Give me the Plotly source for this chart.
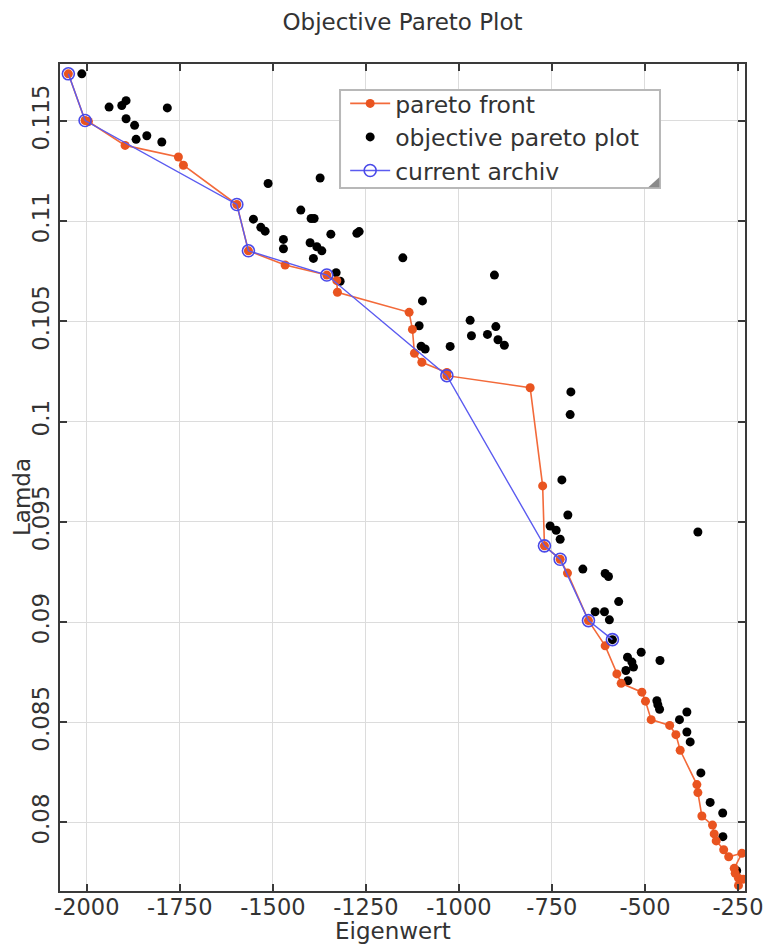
import plotly.graph_objects as go

# pareto front (orange)
pareto_x = [-2049.5, -2004.6, -1995.7, -1897.0, -1753.8, -1740.3, -1596.8, -1565.6, -1467.0,
            -1354.9, -1328.0, -1326.4, -1133.7, -1124.8, -1119.4, -1099.5, -1032.3, -1032.3,
            -808.4, -774.8, -770.0, -727.8, -708.1, -651.7, -606.8, -575.4, -563.8, -508.2,
            -498.5, -483.2, -433.4, -416.7, -405.2, -360.3, -357.6, -346.9, -318.4, -313.8,
            -308.4, -288.3, -274.8, -239.4, -260.0, -257.3, -248.5, -235.8, -248.5]
pareto_y = [0.11735, 0.11502, 0.11497, 0.11378, 0.11320, 0.11279, 0.11083, 0.10852, 0.10781,
            0.10731, 0.10703, 0.10645, 0.10545, 0.10460, 0.10341, 0.10296, 0.10245, 0.10229,
            0.10169, 0.09679, 0.09380, 0.09313, 0.09244, 0.09007, 0.08881, 0.08741, 0.08694,
            0.08650, 0.08605, 0.08513, 0.08484, 0.08438, 0.08360, 0.08189, 0.08149, 0.08032,
            0.07987, 0.07943, 0.07908, 0.07864, 0.07829, 0.07846, 0.07771, 0.07746, 0.07722,
            0.07717, 0.07686]

# objective pareto plot (black)
obj_x = [-2013.4, -1940.1, -1905.9, -1894.4, -1894.4, -1871.5, -1867.5, -1838.7, -1798.4, -1783.6,
         -1512.7, -1372.9, -1552.2, -1532.3, -1520.7, -1424.8, -1397.1, -1389.0, -1471.5, -1471.5,
         -1399.8, -1381.8, -1368.3, -1391.0, -1344.1, -1274.2, -1268.0, -1150.6, -1329.9, -1319.1,
         -1097.9, -1106.8, -1101.4, -1090.6, -1023.4, -969.7, -900.6, -966.2, -923.2, -894.9,
         -877.8, -904.4, -699.0, -700.9, -723.2, -707.1, -754.7, -738.5, -727.8, -666.8,
         -606.8, -597.9, -570.5, -633.7, -608.7, -595.5, -357.6, -510.0, -459.5, -546.8,
         -535.0, -530.7, -551.1, -545.8, -467.8, -465.2, -460.6, -387.2, -407.1, -387.2,
         -378.3, -349.6, -324.6, -290.9, -290.4, -253.3, -587.3]
obj_y = [0.11735, 0.11569, 0.11577, 0.11601, 0.11511, 0.11478, 0.11408, 0.11426, 0.11395, 0.11565,
         0.11188, 0.11215, 0.11010, 0.10969, 0.10950, 0.11055, 0.11013, 0.11013, 0.10909, 0.10862,
         0.10892, 0.10872, 0.10852, 0.10814, 0.10935, 0.10939, 0.10948, 0.10817, 0.10743, 0.10700,
         0.10602, 0.10478, 0.10376, 0.10362, 0.10375, 0.10505, 0.10474, 0.10428, 0.10435, 0.10408,
         0.10381, 0.10731, 0.10148, 0.10035, 0.09709, 0.09534, 0.09479, 0.09458, 0.09413, 0.09264,
         0.09242, 0.09227, 0.09102, 0.09051, 0.09051, 0.09011, 0.09449, 0.08849, 0.08808, 0.08824,
         0.08800, 0.08775, 0.08758, 0.08707, 0.08607, 0.08587, 0.08565, 0.08551, 0.08513, 0.08451,
         0.08402, 0.08247, 0.08100, 0.08047, 0.07929, 0.07759, 0.08912]

# current archiv (blue)
arch_x = [-2049.5, -2004.6, -1596.8, -1565.6, -1354.9, -1032.3, -770.0, -727.8, -651.7, -587.3]
arch_y = [0.11735, 0.11502, 0.11083, 0.10852, 0.10731, 0.10229, 0.09380, 0.09313, 0.09007, 0.08912]

x_ticks = [-2000, -1750, -1500, -1250, -1000, -750, -500, -250]
x_labels = ["-2000", "-1750", "-1500", "-1250", "-1000", "-750", "-500", "-250"]
y_ticks = [0.08, 0.085, 0.09, 0.095, 0.1, 0.105, 0.11, 0.115]
y_labels = ["0.08", "0.085", "0.09", "0.095", "0.1", "0.105", "0.11", "0.115"]

FONT = "DejaVu Sans"
AX = "#3a3a3a"
TXT = "#333333"
FS = 23

fig = go.Figure()
fig.add_trace(go.Scatter(
    x=obj_x, y=obj_y, mode="markers", name="objective pareto plot", legendrank=2,
    marker=dict(color="black", size=9)))
fig.add_trace(go.Scatter(
    x=pareto_x, y=pareto_y, mode="lines+markers", name="pareto front", legendrank=1,
    line=dict(color="#f36a3a", width=1.6),
    marker=dict(color="#e95420", size=9)))
fig.add_trace(go.Scatter(
    x=arch_x, y=arch_y, mode="lines+markers", name="current archiv", legendrank=3,
    line=dict(color="#5b5bf0", width=1.4),
    marker=dict(symbol="circle-open", color="#4a4ae8", size=12, line=dict(width=1.6))))

axis_common = dict(
    showline=True, linecolor=AX, linewidth=2, mirror="allticks",
    ticks="inside", ticklen=7, tickwidth=2, tickcolor=AX,
    showgrid=True, gridcolor="#dcdcdc", gridwidth=1, zeroline=False,
    automargin=False, ticklabeloverflow="allow",
)

fig.update_layout(
    width=766, height=945,
    paper_bgcolor="white", plot_bgcolor="white",
    margin=dict(l=60, r=21, t=64, b=54),
    title=dict(text="Objective Pareto Plot", x=0.5, xref="paper", y=0.9767, yref="container",
               yanchor="middle", font=dict(family=FONT, size=FS, color=TXT)),
    font=dict(family=FONT, color=TXT),
    xaxis=dict(range=[-2072, -231], tickvals=x_ticks, ticktext=x_labels, ticklabelstandoff=-5,
               tickfont=dict(family=FONT, size=22.5, color=TXT), **axis_common),
    yaxis=dict(range=[0.07658, 0.11784], tickvals=y_ticks, ticktext=y_labels, tickangle=-90,
               tickfont=dict(family=FONT, size=FS, color=TXT), **axis_common),
    legend=dict(x=0.4163, y=0.9787, xanchor="left", yanchor="top",
                bgcolor="rgba(0,0,0,0)", borderwidth=0,
                font=dict(family=FONT, size=23.5, color=TXT),
                itemwidth=40),
    showlegend=True,
    shapes=[
        dict(type="rect", xref="paper", yref="paper", x0=0.4088, x1=0.8759, y0=0.8501, y1=0.9686,
             fillcolor="white", line=dict(color="#b8b8b8", width=2), layer="above"),
        dict(type="path", xref="paper", yref="paper",
             path="M 0.8588 0.8509 L 0.8749 0.8630 L 0.8749 0.8509 Z",
             fillcolor="#8a8a8a", line=dict(width=0), layer="above"),
    ],
    annotations=[
        dict(text="Eigenwert", xref="paper", yref="paper", x=0.486, y=-0.0484,
             xanchor="center", yanchor="middle", showarrow=False,
             font=dict(family=FONT, size=FS, color=TXT)),
        dict(text="Lamda", xref="paper", yref="paper", x=-0.0555, y=0.4764,
             xanchor="center", yanchor="middle", showarrow=False, textangle=-90,
             font=dict(family=FONT, size=FS, color=TXT)),
    ],
)

fig.write_html("out.html", config={"displayModeBar": False},
               post_script="document.body.style.margin='0';document.body.style.overflow='hidden';")
